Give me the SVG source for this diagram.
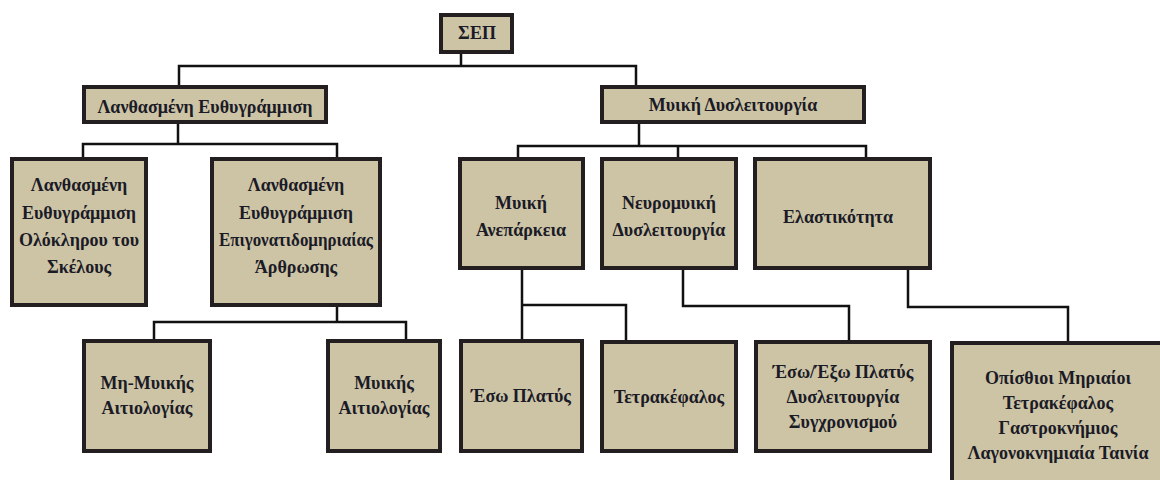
<svg xmlns="http://www.w3.org/2000/svg" width="1160" height="480" viewBox="0 0 1160 480">
<style>
.box{fill:#CDC4A6;stroke:#231F20;stroke-width:4}
.t{font-family:"Liberation Serif","DejaVu Serif",serif;font-size:18px;font-weight:bold;fill:#1B1B26;text-anchor:middle}
.c{fill:none;stroke:#111;stroke-width:2.5}
</style>
<rect width="1160" height="480" fill="#fff"/>
<g id="connectors">
<path class="c" d="M461,54 V66 M179,85 V66 H636 V85"/>
<path class="c" d="M178,124 V144 M83,157 V144 H337 V157"/>
<path class="c" d="M639,124 V146 M518,157 V146 H866 V157 M678,146 V157"/>
<path class="c" d="M337,307 V322 M154,339 V322 H406 V339"/>
<path class="c" d="M522,270 V339 M522,305 H626 V340"/>
<path class="c" d="M683,270 V306 H849 V340"/>
<path class="c" d="M908,270 V307 H1068 V341"/>
</g>
<g id="sep"><rect class="box" x="441" y="15" width="71" height="37"/><text class="t" x="477" y="39" font-size="19">ΣΕΠ</text></g>
<g id="le"><rect class="box" x="84" y="87" width="242" height="35"/><text class="t" x="205" y="113">Λανθασμένη Ευθυγράμμιση</text></g>
<g id="md"><rect class="box" x="602" y="87" width="262" height="35"/><text class="t" x="733" y="111">Μυική Δυσλειτουργία</text></g>
<g id="lo"><rect class="box" x="12" y="159" width="134" height="146"/>
<text class="t" x="79" y="191">Λανθασμένη</text><text class="t" x="79" y="219">Ευθυγράμμιση</text><text class="t" x="79" y="246">Ολόκληρου του</text><text class="t" x="79" y="273">Σκέλους</text></g>
<g id="lp"><rect class="box" x="212" y="159" width="168" height="146"/>
<text class="t" x="296" y="191">Λανθασμένη</text><text class="t" x="296" y="219">Ευθυγράμμιση</text><text class="t" x="296" y="246" textLength="154" lengthAdjust="spacingAndGlyphs">Επιγονατιδομηριαίας</text><text class="t" x="296" y="273">Άρθρωσης</text></g>
<g id="ma"><rect class="box" x="460" y="159" width="123" height="109"/>
<text class="t" x="521" y="209">Μυική</text><text class="t" x="521" y="236">Ανεπάρκεια</text></g>
<g id="nm"><rect class="box" x="602" y="159" width="134" height="109"/>
<text class="t" x="669" y="209">Νευρομυική</text><text class="t" x="669" y="236">Δυσλειτουργία</text></g>
<g id="el"><rect class="box" x="755" y="159" width="175" height="109"/>
<text class="t" x="838" y="223">Ελαστικότητα</text></g>
<g id="mm"><rect class="box" x="84" y="341" width="126" height="110"/>
<text class="t" x="147" y="389">Μη-Μυικής</text><text class="t" x="147" y="414">Αιτιολογίας</text></g>
<g id="my"><rect class="box" x="328" y="341" width="112" height="110"/>
<text class="t" x="384" y="389">Μυικής</text><text class="t" x="384" y="414">Αιτιολογίας</text></g>
<g id="ep"><rect class="box" x="461" y="341" width="121" height="110"/>
<text class="t" x="521" y="402">Έσω Πλατύς</text></g>
<g id="te"><rect class="box" x="602" y="342" width="134" height="109"/>
<text class="t" x="669" y="403">Τετρακέφαλος</text></g>
<g id="ee"><rect class="box" x="756" y="342" width="174" height="109"/>
<text class="t" x="843" y="378">Έσω/Έξω Πλατύς</text><text class="t" x="843" y="403">Δυσλειτουργία</text><text class="t" x="843" y="428">Συγχρονισμού</text></g>
<g id="op"><rect class="box" x="952" y="343" width="212" height="150"/>
<text class="t" x="1058" y="384">Οπίσθιοι Μηριαίοι</text><text class="t" x="1058" y="409">Τετρακέφαλος</text><text class="t" x="1058" y="434">Γαστροκνήμιος</text><text class="t" x="1058" y="459">Λαγονοκνημιαία Ταινία</text></g>
</svg>
